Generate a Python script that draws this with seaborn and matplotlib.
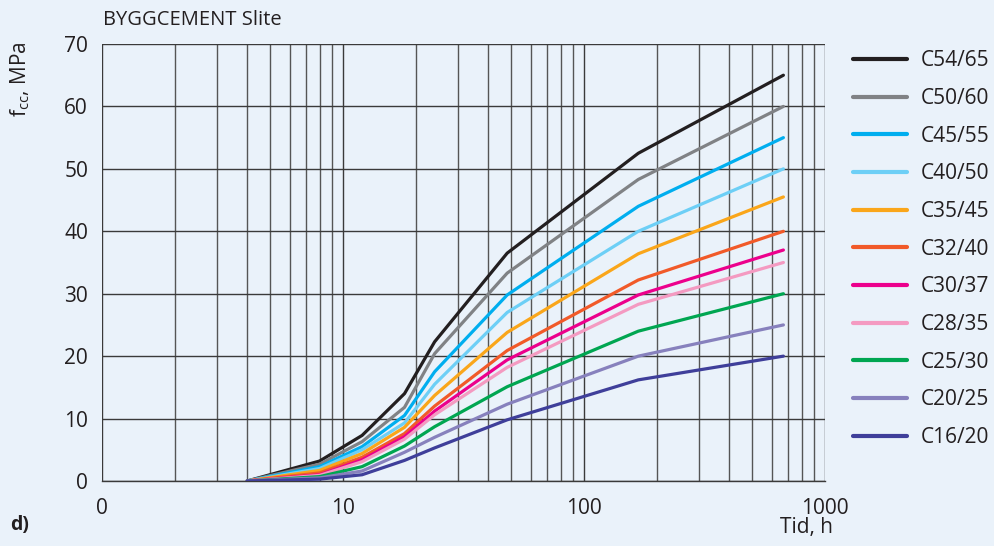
import numpy as np
import pandas as pd
import matplotlib
matplotlib.use("Agg")
import matplotlib.pyplot as plt
from matplotlib.ticker import FixedLocator, FixedFormatter, NullFormatter
import seaborn as sns

# Curing time (hours) and compressive strength (MPa) for each strength class
hours = [4, 8, 12, 18, 24, 48, 168, 672]
classes = ["C54/65", "C50/60", "C45/55", "C40/50", "C35/45", "C32/40",
           "C30/37", "C28/35", "C25/30", "C20/25", "C16/20"]
c54_65 = [0, 3.2, 7.3, 14.0, 22.3, 36.5, 52.5, 65.0]
c50_60 = [0, 2.7, 6.3, 11.8, 20.4, 33.3, 48.3, 60.0]
c45_55 = [0, 2.3, 5.5, 10.5, 17.5, 29.8, 44.0, 55.0]
c40_50 = [0, 2.0, 5.0, 9.3, 15.5, 27.0, 40.0, 50.0]
c35_45 = [0, 1.7, 4.4, 8.6, 13.7, 23.8, 36.4, 45.5]
c32_40 = [0, 1.3, 3.8, 7.6, 12.0, 20.9, 32.2, 40.0]
c30_37 = [0, 1.0, 3.4, 7.1, 11.2, 19.4, 29.8, 37.0]
c28_35 = [0, 0.9, 3.1, 6.7, 10.6, 18.2, 28.3, 35.0]
c25_30 = [0, 0.7, 2.3, 5.6, 8.7, 15.1, 24.0, 30.0]
c20_25 = [0, 0.5, 1.6, 4.6, 7.0, 12.3, 20.0, 25.0]
c16_20 = [0, 0.3, 1.0, 3.3, 5.3, 9.8, 16.2, 20.0]
series = [c54_65, c50_60, c45_55, c40_50, c35_45, c32_40,
          c30_37, c28_35, c25_30, c20_25, c16_20]
colors = ["#231F20", "#808285", "#00AEEF", "#6DCFF6", "#FAA61A", "#F15A29",
          "#EC008C", "#F49AC1", "#00A651", "#8781BD", "#3F3F9A"]

x_ticks = [1, 10, 100, 1000]
x_tick_labels = ["0", "10", "100", "1000"]
y_ticks = [0, 10, 20, 30, 40, 50, 60, 70]

df = pd.DataFrame(
    [(h, v, c) for c, vals in zip(classes, series) for h, v in zip(hours, vals)],
    columns=["Tid", "fcc", "klass"],
)

bg = "#EAF2FA"
text_col = "#231F20"
fs = 15

sns.set_theme(style="white")
plt.rcParams["font.family"] = ["Open Sans", "DejaVu Sans"]
plt.rcParams["text.color"] = text_col
plt.rcParams["axes.labelcolor"] = text_col
plt.rcParams["xtick.color"] = text_col
plt.rcParams["ytick.color"] = text_col

fig = plt.figure(figsize=(9.95, 5.46), dpi=100, facecolor=bg)
ax = fig.add_axes([102 / 995, 65 / 546, 723 / 995, 437 / 546])
ax.set_facecolor(bg)

sns.lineplot(data=df, x="Tid", y="fcc", hue="klass", hue_order=classes,
             palette=colors, linewidth=2.3, ax=ax, legend=True,
             zorder=3)

ax.set_xscale("log")
ax.set_xlim(1, 1000)
ax.set_ylim(0, 70)

minor = [m * 10 ** e for e in range(0, 3) for m in range(2, 10)]
ax.xaxis.set_major_locator(FixedLocator(x_ticks))
ax.xaxis.set_major_formatter(FixedFormatter(x_tick_labels))
ax.xaxis.set_minor_locator(FixedLocator(minor))
ax.xaxis.set_minor_formatter(NullFormatter())
ax.set_yticks(y_ticks)

ax.grid(True, which="major", axis="both", color="#3a3a3a", linewidth=1.0, zorder=1)
ax.grid(True, which="minor", axis="x", color="#555555", linewidth=1.0, zorder=1)
ax.set_axisbelow(True)

for s in ax.spines.values():
    s.set_visible(False)
ax.spines["bottom"].set_visible(True)
ax.spines["bottom"].set_color("#3a3a3a")
ax.spines["bottom"].set_linewidth(1.0)

ax.tick_params(axis="both", which="both", direction="out", labelsize=fs,
               length=7, width=1.0, colors="#3a3a3a", labelcolor=text_col)
ax.tick_params(axis="x", which="both", length=9, pad=3)
ax.tick_params(axis="y", length=6, pad=4)

ax.set_xlabel("")
ax.set_ylabel("")

fig.text(20 / 995, 1 - 79 / 546, r"f$\mathregular{_{cc}}$, MPa", rotation=90,
         ha="center", va="center", fontsize=fs, color=text_col)
fig.text(103 / 995, 1 - 20 / 546, "BYGGCEMENT Slite", ha="left", va="center",
         fontsize=14.5, color=text_col)
fig.text(833 / 995, 1 - 528 / 546, "Tid, h", ha="right", va="center",
         fontsize=fs, color=text_col)
fig.text(10 / 995, 1 - 525 / 546, "d)", ha="left", va="center",
         fontsize=fs - 1, fontweight="bold", color=text_col)

handles, labels = ax.get_legend_handles_labels()
leg = ax.legend(handles, labels, loc="upper left",
                bbox_to_anchor=(845 / 995, 1 - 42 / 546),
                bbox_transform=fig.transFigure, frameon=False,
                fontsize=fs, handlelength=2.6, handletextpad=0.65,
                labelspacing=0.8, borderaxespad=0)
for line in leg.get_lines():
    line.set_linewidth(3)

fig.savefig("out.png", dpi=100, facecolor=bg)
